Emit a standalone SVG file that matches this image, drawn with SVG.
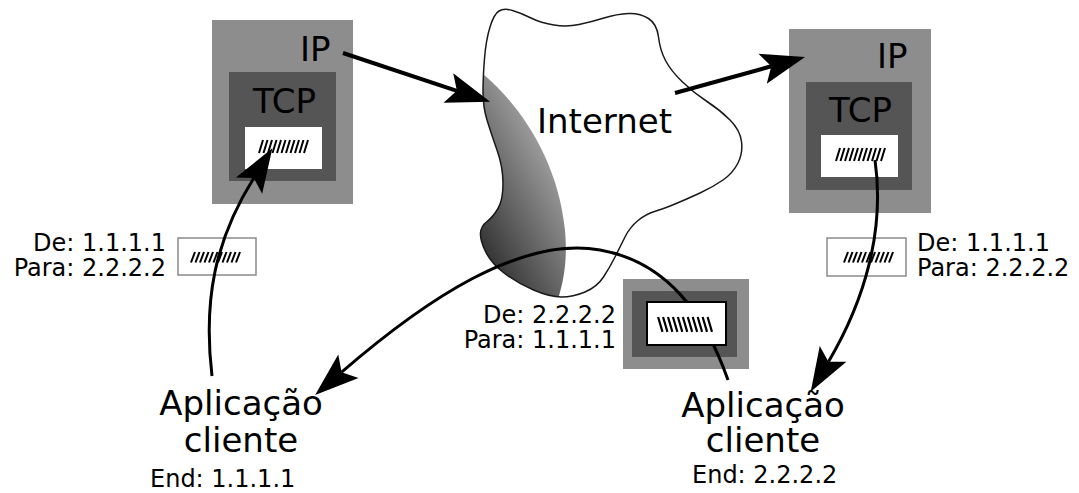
<svg xmlns="http://www.w3.org/2000/svg" width="1079" height="493" viewBox="0 0 1079 493">
  <style>
    text { font-family: "DejaVu Sans", "Liberation Sans", sans-serif; fill: #000; }
    .big { font-size: 34px; }
    .small { font-size: 24px; }
    .outer { fill: #8d8d8d; }
    .inner { fill: #555555; }
    .card { fill: #ffffff; }
    .pkt { fill: #ffffff; stroke: #8a8a8a; stroke-width: 1.5; }
    .hash { fill: none; stroke: #000; stroke-width: 2; }
    .wire { fill: none; stroke: #000; stroke-width: 3; marker-end: url(#head); }
    .wire.thick { stroke-width: 4; }
  </style>
  <defs>
    <marker id="head" markerUnits="userSpaceOnUse" markerWidth="50" markerHeight="36" refX="9" refY="18" orient="auto" overflow="visible">
      <path d="M0,2.5 L44,18 L0,33.5 L9,18 Z" fill="#000"/>
    </marker>
    <linearGradient id="shade" gradientUnits="userSpaceOnUse" x1="478" y1="250" x2="570" y2="200">
      <stop offset="0" stop-color="#303030"/>
      <stop offset="1" stop-color="#9a9a9a"/>
    </linearGradient>
    <path id="cloud-shape" d="M483,92 Q483,77 484.5,58.5 Q486,40 490,27 Q494,14 499,11 Q504,8 512.5,10.5 Q521,13 531,18 Q541,23 554,25 Q567,27 579,24.5 Q591,22 604,18 Q617,14 628.5,13.5 Q640,13 648.5,18.5 Q657,24 658.5,37 Q660,50 665.5,60.5 Q671,71 682.5,82 Q694,93 707,101.5 Q720,110 730,120 Q740,130 741.5,141.5 Q743,153 738,163 Q733,173 723,180 Q713,187 700,193 Q687,199 675,204 Q663,209 654.5,211.5 Q646,214 638,220.5 Q630,227 625,237 Q620,247 615,257 Q610,267 603.5,277 Q597,287 585,292 Q573,297 561.5,297 Q550,297 533.5,290 Q517,283 504,273 Q491,263 485.5,251.5 Q480,240 480.5,233 Q481,226 487,221.5 Q493,217 498,208.5 Q503,200 503,183.5 Q503,167 497,150 Q491,133 487,120 Q483,107 483,92 Z"/>
    <clipPath id="cloud-clip">
      <use href="#cloud-shape"/>
    </clipPath>
    <path id="hash" d="M0,13L4,0M4.5,13L8.5,0M9,13L13,0M13.5,13L17.5,0M18,13L22,0M22.5,13L26.5,0M27,13L31,0M31.5,13L35.5,0M36,13L40,0M40.5,13L44.5,0M45,13L49,0"/>
  </defs>

  <rect width="1079" height="493" fill="#ffffff"/>

  <!-- the Internet cloud with its shaded left flank -->
  <g id="internet">
    <use href="#cloud-shape" fill="#ffffff"/>
    <path d="M470,60 L483,74 C520,105 558,160 565,230 C568,262 563,285 556,305 L470,305 Z" fill="url(#shade)" clip-path="url(#cloud-clip)"/>
    <use href="#cloud-shape" fill="none" stroke="#1a1a1a" stroke-width="1.5"/>
    <text class="big" x="537" y="133">Internet</text>
  </g>

  <!-- host 1.1.1.1: IP layer wrapping TCP wrapping data -->
  <g id="host-left">
    <rect class="outer" x="212" y="20" width="141" height="184"/>
    <text class="big" x="300" y="61">IP</text>
    <rect class="inner" x="229" y="72" width="107" height="109"/>
    <text class="big" x="253" y="113">TCP</text>
    <rect class="card" x="245" y="127" width="77" height="42"/>
    <use href="#hash" class="hash" transform="translate(259,140)"/>
  </g>

  <!-- host 2.2.2.2 -->
  <g id="host-right">
    <rect class="outer" x="789" y="29" width="142" height="184"/>
    <text class="big" x="877" y="68">IP</text>
    <rect class="inner" x="806" y="82" width="106" height="108"/>
    <text class="big" x="829" y="122">TCP</text>
    <rect class="card" x="821" y="135" width="77" height="42"/>
    <use href="#hash" class="hash" transform="translate(836,148)"/>
  </g>

  <!-- outgoing packet -->
  <g id="packet-left">
    <rect class="pkt" x="178" y="238" width="78" height="37"/>
    <use href="#hash" class="hash" transform="translate(191,252) scale(1,0.8)"/>
    <text class="small" x="166" y="251" text-anchor="end">De: 1.1.1.1</text>
    <text class="small" x="166" y="276" text-anchor="end">Para: 2.2.2.2</text>
  </g>

  <!-- delivered packet -->
  <g id="packet-right">
    <rect class="pkt" x="827" y="238" width="79" height="38"/>
    <use href="#hash" class="hash" transform="translate(844,252) scale(1,0.8)"/>
    <text class="small" x="917" y="251">De: 1.1.1.1</text>
    <text class="small" x="917" y="276">Para: 2.2.2.2</text>
  </g>

  <!-- reply packet frames -->
  <g id="packet-mid">
    <rect class="outer" x="623" y="279" width="126" height="90"/>
    <rect class="inner" x="632" y="291" width="105" height="66"/>
    <text class="small" x="616" y="323" text-anchor="end">De: 2.2.2.2</text>
    <text class="small" x="616" y="348" text-anchor="end">Para: 1.1.1.1</text>
  </g>

  <!-- client applications -->
  <g id="app-left">
    <text class="big" x="241" y="415" text-anchor="middle">Aplicação</text>
    <text class="big" x="241" y="452" text-anchor="middle">cliente</text>
    <text class="small" x="150" y="487">End: 1.1.1.1</text>
  </g>
  <g id="app-right">
    <text class="big" x="763" y="417" text-anchor="middle">Aplicação</text>
    <text class="big" x="763" y="452" text-anchor="middle">cliente</text>
    <text class="small" x="692" y="483">End: 2.2.2.2</text>
  </g>

  <!-- packet flow -->
  <g id="connectors">
    <path class="wire thick" d="M343,53 L456.9,90.8"/>
    <path class="wire thick" d="M675,93 L771.3,66.3"/>
    <path class="wire" d="M212,376 C203,300 215,240 253.8,178"/>
    <path class="wire" d="M875,160 C885,230 865,300 828.5,361.7"/>
    <path class="wire" d="M728,380 C705,315 668,262 600,250 C520,236 425,300 341.6,372.2"/>
  </g>

  <!-- reply packet payload, laid over the return path -->
  <g id="packet-mid-card">
    <rect x="647" y="302" width="79" height="43" fill="#ffffff" stroke="#000" stroke-width="2"/>
    <use href="#hash" class="hash" transform="translate(712,317) scale(-1.1,1.15)"/>
  </g>
</svg>
